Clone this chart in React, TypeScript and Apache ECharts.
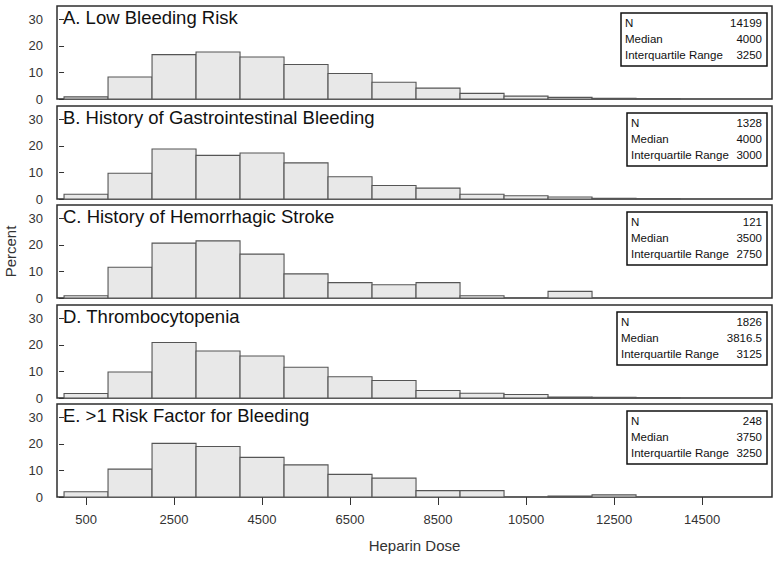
import React, { useEffect, useRef } from 'react';
import * as echarts from 'echarts';

// ---- data ----
const binStarts = [0, 1000, 2000, 3000, 4000, 5000, 6000, 7000, 8000, 9000, 10000, 11000, 12000, 13000];
const binWidth = 1000;

const panelTitles = [
  'A. Low Bleeding Risk',
  'B. History of Gastrointestinal Bleeding',
  'C. History of Hemorrhagic Stroke',
  'D. Thrombocytopenia',
  'E. >1 Risk Factor for Bleeding',
];

const percentLowRisk = [0.8, 8.3, 16.7, 17.7, 15.8, 13.0, 9.6, 6.3, 4.1, 2.1, 1.1, 0.6, 0.25, 0.2];
const percentGIBleed = [1.8, 9.7, 18.8, 16.4, 17.3, 13.6, 8.4, 5.1, 4.1, 1.8, 1.25, 0.75, 0.3, 0.2];
const percentHemStroke = [0.83, 11.57, 20.66, 21.49, 16.53, 9.09, 5.79, 4.96, 5.79, 0.83, 0, 2.48, 0, 0];
const percentThrombo = [1.7, 9.8, 20.9, 17.7, 15.8, 11.6, 8.0, 6.6, 2.8, 1.8, 1.3, 0.35, 0.25, 0.2];
const percentMultiRisk = [2.0, 10.5, 20.2, 19.0, 14.9, 12.1, 8.5, 7.1, 2.4, 2.4, 0, 0.4, 0.8, 0];

const panelValues = [percentLowRisk, percentGIBleed, percentHemStroke, percentThrombo, percentMultiRisk];

const statN = ['14199', '1328', '121', '1826', '248'];
const statMedian = ['4000', '4000', '3500', '3816.5', '3750'];
const statIQR = ['3250', '3000', '2750', '3125', '3250'];
const statLabels = ['N', 'Median', 'Interquartile Range'];

const xTickValues = [500, 2500, 4500, 6500, 8500, 10500, 12500, 14500];
const yTickValues = [0, 10, 20, 30];

// ---- layout ----
const FONT = 'Liberation Sans, Arial, Helvetica, sans-serif';
const panelTops = [6, 106, 205, 305, 404];
const panelHeight = 93;
const plotLeft = 57;
const plotRight = 772;
const boxWidths = [146, 140, 140, 150, 140];
const boxRight = 767;

export default function App() {
  const ref = useRef<HTMLDivElement>(null);

  useEffect(() => {
    const chart = echarts.init(ref.current!, null, { renderer: 'svg' });

    const grids: any[] = [];
    const xAxes: any[] = [];
    const yAxes: any[] = [];
    const series: any[] = [];
    const graphics: any[] = [];

    panelValues.forEach((vals, i) => {
      const isLast = i === panelValues.length - 1;
      grids.push({
        left: plotLeft,
        width: plotRight - plotLeft,
        top: panelTops[i],
        height: panelHeight,
        outerBoundsMode: 'none',
        containLabel: false,
        show: true,
        borderColor: '#2e2e2e',
        borderWidth: 1.5,
        backgroundColor: 'transparent',
      });
      xAxes.push({
        type: 'value',
        gridIndex: i,
        min: -160,
        max: 16090,
        axisLine: { show: false },
        splitLine: { show: false },
        axisTick: {
          show: isLast,
          customValues: xTickValues,
          length: 8,
          lineStyle: { color: '#333', width: 1 },
        },
        axisLabel: {
          show: isLast,
          customValues: xTickValues,
          formatter: (v: number) => String(v),
          fontSize: 13,
          color: '#333',
          margin: 16,
          fontFamily: FONT,
        },
        name: isLast ? 'Heparin Dose' : '',
        nameLocation: 'middle',
        nameGap: 41,
        nameTextStyle: { fontSize: 15, color: '#333', fontFamily: FONT },
      });
      yAxes.push({
        type: 'value',
        gridIndex: i,
        min: 0,
        max: 35,
        axisLine: { show: false },
        splitLine: { show: false },
        axisTick: {
          show: true,
          customValues: yTickValues,
          length: 5,
          lineStyle: { color: '#333', width: 1 },
        },
        axisLabel: {
          customValues: yTickValues,
          formatter: (v: number) => String(v),
          fontSize: 13,
          color: '#333',
          margin: 14,
          fontFamily: FONT,
        },
        name: i === 2 ? 'Percent' : '',
        nameLocation: 'middle',
        nameGap: 38,
        nameRotate: 90,
        nameTextStyle: { fontSize: 15, color: '#333', fontFamily: FONT },
      });

      const data = binStarts
        .map((s, k) => [s, s + binWidth, vals[k]])
        .filter((d) => d[2] > 0);

      series.push({
        type: 'custom',
        xAxisIndex: i,
        yAxisIndex: i,
        encode: { x: [0, 1], y: 2 },
        data,
        renderItem: (params: any, api: any) => {
          const p0 = api.coord([api.value(0), 0]);
          const p1 = api.coord([api.value(1), api.value(2)]);
          return {
            type: 'rect',
            shape: { x: p0[0], y: p1[1], width: p1[0] - p0[0], height: p0[1] - p1[1] },
            style: { fill: '#e8e8e8', stroke: '#555', lineWidth: 1.1 },
          };
        },
      });

      // panel title
      graphics.push({
        type: 'text',
        left: 63,
        top: panelTops[i] + 2,
        style: {
          text: panelTitles[i],
          fontSize: 18.5,
          fill: '#111',
          fontFamily: FONT,
        },
      });

      // statistics box
      const bTop = panelTops[i] + 7;
      const bLeft = boxRight - boxWidths[i];
      const values = [statN[i], statMedian[i], statIQR[i]];
      const children: any[] = [
        {
          type: 'rect',
          shape: { x: bLeft, y: bTop, width: boxWidths[i], height: 53 },
          style: { fill: '#fff', stroke: '#111', lineWidth: 1.5 },
        },
      ];
      statLabels.forEach((lab, r) => {
        const cy = bTop + 10 + r * 16;
        children.push({
          type: 'text',
          x: bLeft + 4,
          y: cy,
          style: {
            text: lab,
            fontSize: 11.5,
            fill: '#111',
            fontFamily: FONT,
            textAlign: 'left',
            textVerticalAlign: 'middle',
          },
        });
        children.push({
          type: 'text',
          x: boxRight - 5,
          y: cy,
          style: {
            text: values[r],
            fontSize: 11.5,
            fill: '#111',
            fontFamily: FONT,
            textAlign: 'right',
            textVerticalAlign: 'middle',
          },
        });
      });
      graphics.push({ type: 'group', children });
    });

    chart.setOption({
      animation: false,
      backgroundColor: '#fff',
      grid: grids,
      xAxis: xAxes,
      yAxis: yAxes,
      series,
      graphic: graphics,
    });

    return () => chart.dispose();
  }, []);

  return (
    <div
      ref={ref}
      style={{ position: 'absolute', left: 0, top: 0, width: 779, height: 562 }}
    />
  );
}
